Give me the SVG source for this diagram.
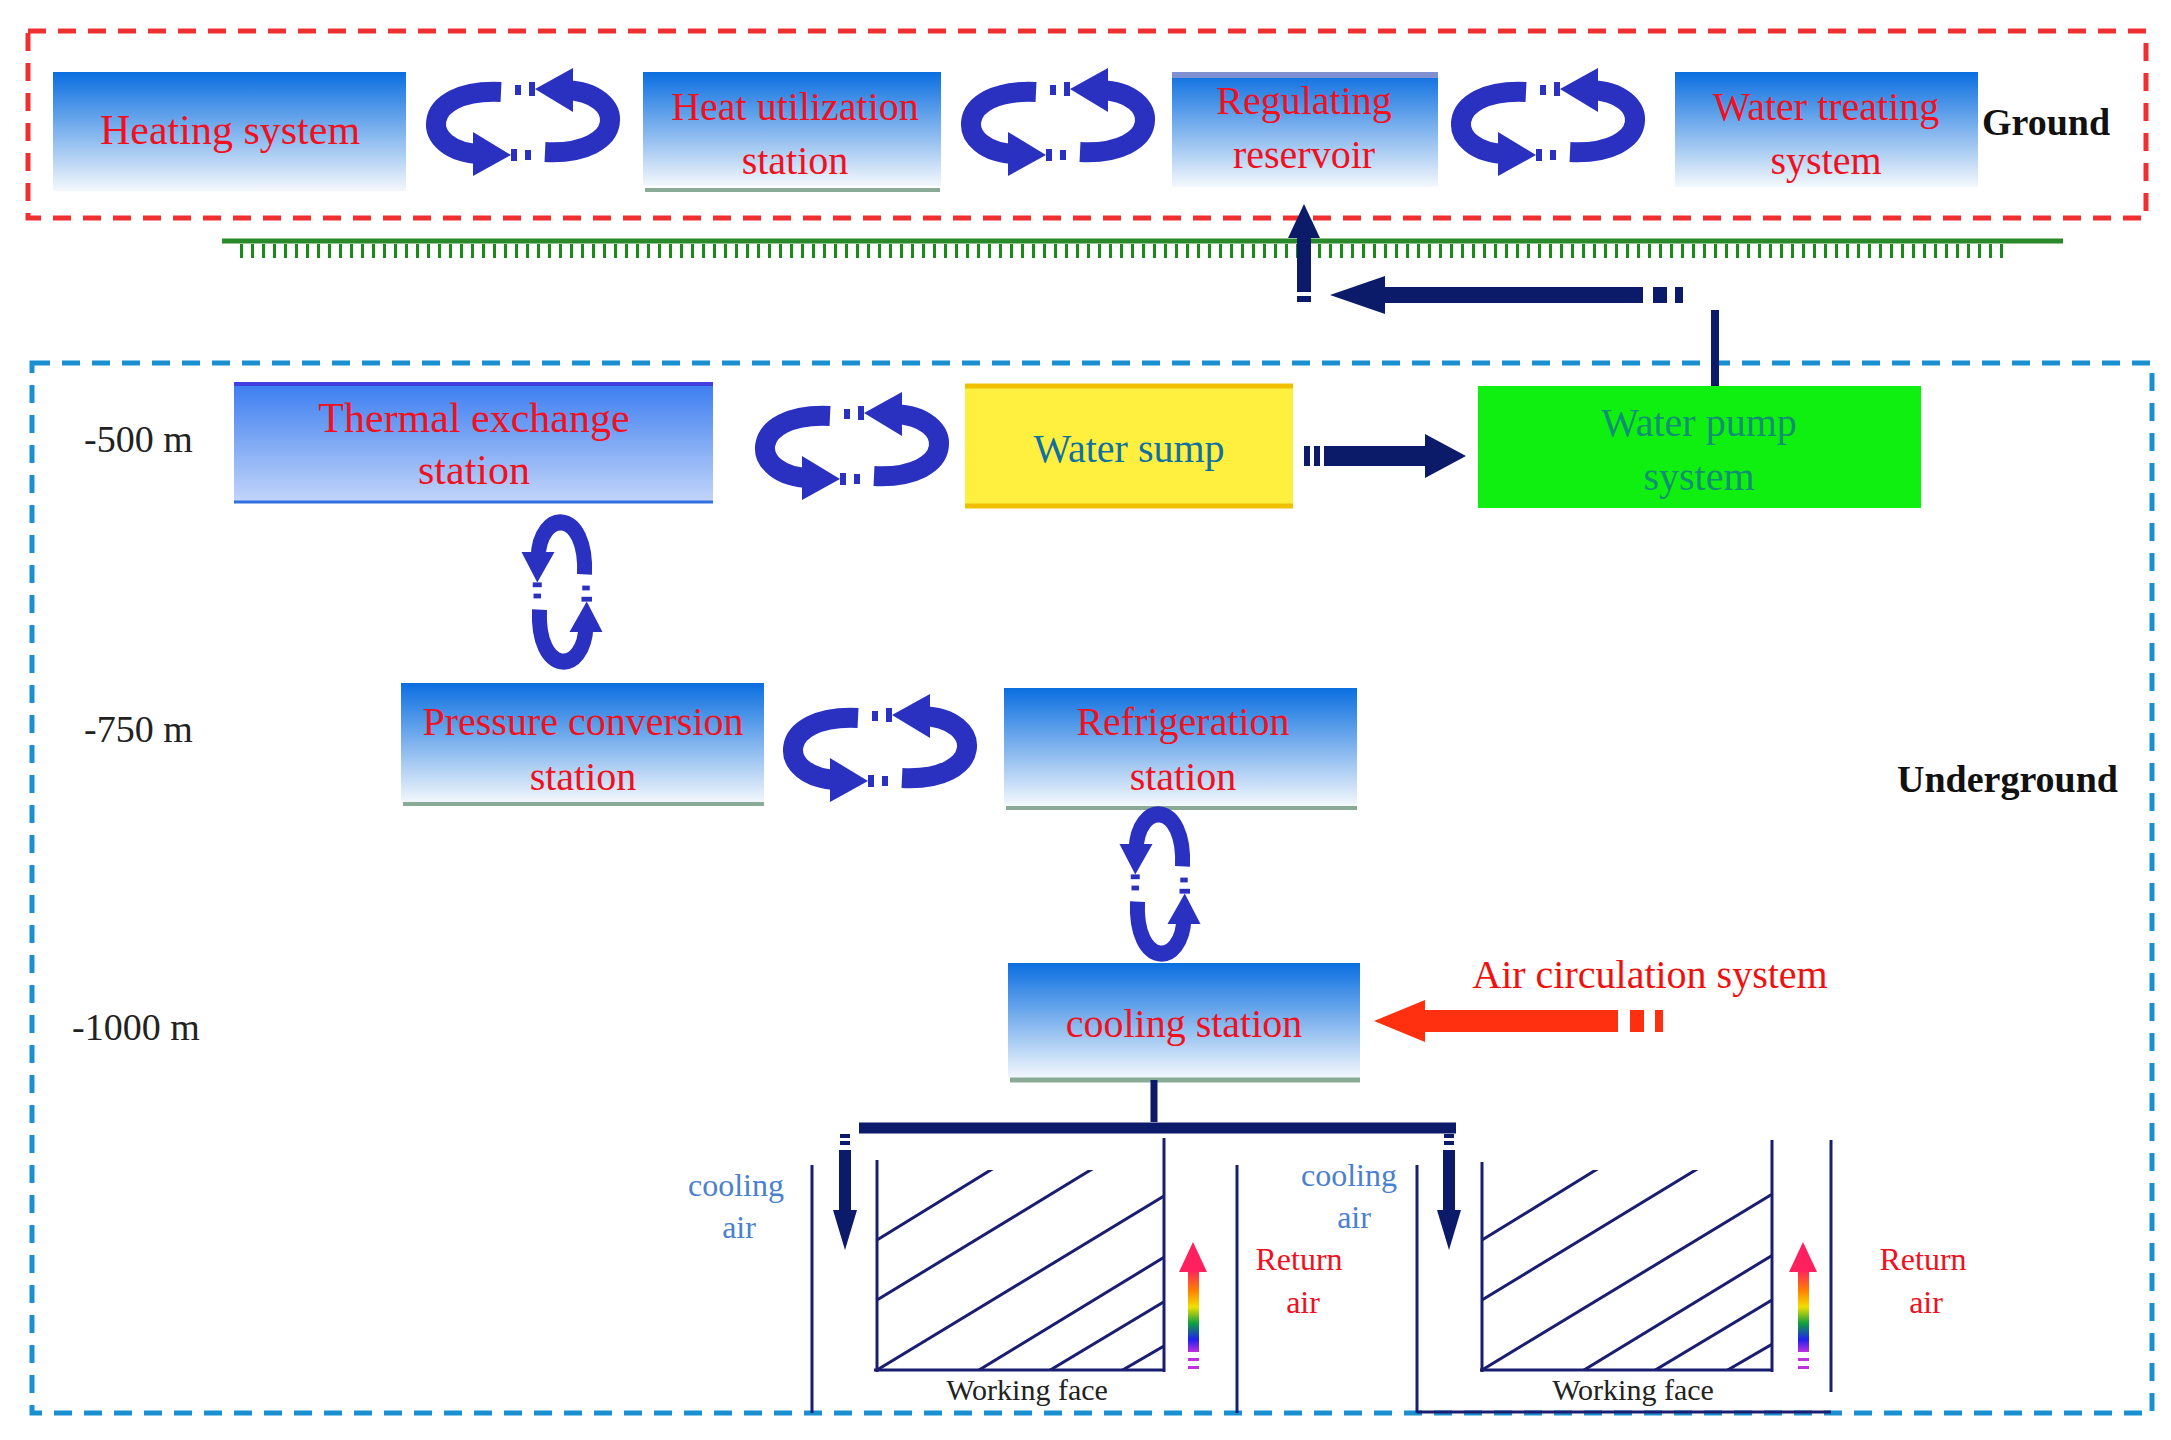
<svg xmlns="http://www.w3.org/2000/svg" width="2171" height="1440" viewBox="0 0 2171 1440">
<style>
.t{font-family:"Liberation Serif",serif;fill:#f01020;text-anchor:middle}
.b{font-family:"Liberation Serif",serif;fill:#111;font-weight:bold}
.d{font-family:"Liberation Serif",serif;fill:#222;font-size:38px}
.ca{font-family:"Liberation Serif",serif;fill:#4a80d0;font-size:32px;text-anchor:middle}
.ra{font-family:"Liberation Serif",serif;fill:#f01020;font-size:32px;text-anchor:middle}
.wf{font-family:"Liberation Serif",serif;fill:#222;font-size:30px;text-anchor:middle}
.nv{stroke:#0c1a6a;fill:none}
.h{stroke:#1a1e70;stroke-width:3;fill:none}
</style>
<defs>
<linearGradient id="gb" x1="0" y1="0" x2="0" y2="1"><stop offset="0" stop-color="#0a6ee0"/><stop offset="1" stop-color="#f4f8fc"/></linearGradient>
<linearGradient id="gt" x1="0" y1="0" x2="0" y2="1"><stop offset="0" stop-color="#3a7cf0"/><stop offset="1" stop-color="#c4d6fa"/></linearGradient>
<linearGradient id="rb" x1="0" y1="1" x2="0" y2="0"><stop offset="0" stop-color="#c030e0"/><stop offset="0.15" stop-color="#2020f0"/><stop offset="0.35" stop-color="#10a040"/><stop offset="0.55" stop-color="#f0e000"/><stop offset="0.75" stop-color="#ff8000"/><stop offset="1" stop-color="#ff2060"/></linearGradient>
<g id="cyc" fill="#2a30c0">
<path d="M-22,-30 C-105,-34 -105,30 -42,32" stroke="#2a30c0" stroke-width="20" fill="none"/>
<polygon points="-50,10 -12,33 -50,54"/>
<path d="M22,30 C105,34 105,-30 42,-32" stroke="#2a30c0" stroke-width="20" fill="none"/>
<polygon points="50,-10 12,-33 50,-54"/>
<rect x="-8" y="-37" width="6" height="10"/><rect x="6" y="-40" width="6" height="14"/>
<rect x="-12" y="27" width="6" height="12"/><rect x="2" y="28" width="6" height="10"/>
</g>
<clipPath id="c1"><rect x="0" y="0" width="287" height="199"/></clipPath>
<clipPath id="c2"><rect x="0" y="0" width="290" height="199"/></clipPath>
<g id="hatch" class="h">
<line x1="0" y1="70" x2="130" y2="-10"/><line x1="0" y1="130" x2="230" y2="-10"/>
<line x1="0" y1="200" x2="330" y2="0"/><line x1="20" y1="250" x2="340" y2="55"/>
<line x1="90" y1="250" x2="340" y2="100"/><line x1="160" y1="250" x2="340" y2="145"/>
<line x1="250" y1="250" x2="340" y2="190"/>
</g>
</defs>
<rect width="2171" height="1440" fill="#fff"/>
<g id="ground">
<rect x="28" y="31" width="2118" height="187" fill="none" stroke="#f03030" stroke-width="5" stroke-dasharray="18,12"/>
<text class="b" x="1982" y="135" font-size="38">Ground</text>
<line x1="222" y1="241" x2="2063" y2="241" stroke="#2a8a2a" stroke-width="5"/>
<line x1="240" y1="251" x2="2010" y2="251" stroke="#1a8a1a" stroke-width="14" stroke-dasharray="3,8"/>
</g>
<g id="underground">
<rect x="32" y="363" width="2120" height="1050" fill="none" stroke="#1a90d0" stroke-width="5" stroke-dasharray="18,12"/>
<text class="b" x="2118" y="792" font-size="38" text-anchor="end">Underground</text>
<text class="d" x="84" y="452">-500 m</text>
<text class="d" x="84" y="742">-750 m</text>
<text class="d" x="72" y="1040">-1000 m</text>
</g>
<g id="heating"><rect x="53" y="72" width="353" height="119" fill="url(#gb)"/><text class="t" x="230" y="144" font-size="42">Heating system</text></g>
<g id="heatutil"><rect x="643" y="72" width="298" height="114" fill="url(#gb)"/><line x1="645" y1="190" x2="940" y2="190" stroke="#8aaa98" stroke-width="4"/><text class="t" x="795" y="120" font-size="40">Heat utilization</text><text class="t" x="795" y="174" font-size="40">station</text></g>
<g id="regulating"><rect x="1172" y="72" width="266" height="115" fill="url(#gb)"/><rect x="1172" y="72" width="266" height="6" fill="#8090d0"/><text class="t" x="1304" y="114" font-size="40">Regulating</text><text class="t" x="1304" y="168" font-size="40">reservoir</text></g>
<g id="watertreat"><rect x="1675" y="72" width="303" height="115" fill="url(#gb)"/><text class="t" x="1826" y="120" font-size="40">Water treating</text><text class="t" x="1826" y="174" font-size="40">system</text></g>
<g id="thermal"><rect x="234" y="382" width="479" height="121" fill="url(#gt)"/><line x1="234" y1="384" x2="713" y2="384" stroke="#4040e0" stroke-width="4"/><line x1="234" y1="502" x2="713" y2="502" stroke="#3070e0" stroke-width="3"/><text class="t" x="474" y="432" font-size="42">Thermal exchange</text><text class="t" x="474" y="484" font-size="42">station</text></g>
<g id="sump"><rect x="965" y="384" width="328" height="124" fill="#fff040"/><line x1="965" y1="386" x2="1293" y2="386" stroke="#f0c000" stroke-width="5"/><line x1="965" y1="506" x2="1293" y2="506" stroke="#f0c000" stroke-width="5"/><text x="1129" y="462" font-size="40" text-anchor="middle" font-family="Liberation Serif,serif" fill="#1070a0">Water sump</text></g>
<g id="pump"><rect x="1478" y="386" width="443" height="122" fill="#10f010"/><text x="1699" y="436" font-size="40" text-anchor="middle" font-family="Liberation Serif,serif" fill="#109070">Water pump</text><text x="1699" y="490" font-size="40" text-anchor="middle" font-family="Liberation Serif,serif" fill="#109070">system</text></g>
<g id="pressure"><rect x="401" y="683" width="363" height="120" fill="url(#gb)"/><line x1="403" y1="804" x2="764" y2="804" stroke="#8aaa98" stroke-width="4"/><text class="t" x="583" y="735" font-size="40">Pressure conversion</text><text class="t" x="583" y="790" font-size="40">station</text></g>
<g id="refrig"><rect x="1004" y="688" width="353" height="118" fill="url(#gb)"/><line x1="1006" y1="808" x2="1357" y2="808" stroke="#8aaa98" stroke-width="4"/><text class="t" x="1183" y="735" font-size="40">Refrigeration</text><text class="t" x="1183" y="790" font-size="40">station</text></g>
<g id="cooling"><rect x="1008" y="963" width="352" height="115" fill="url(#gb)"/><line x1="1010" y1="1080" x2="1360" y2="1080" stroke="#8aaa98" stroke-width="5"/><text class="t" x="1184" y="1037" font-size="40">cooling station</text></g>
<g id="connectors">
<use href="#cyc" transform="translate(523,122)"/>
<use href="#cyc" transform="translate(1058,122)"/>
<use href="#cyc" transform="translate(1548,122)"/>
<use href="#cyc" transform="translate(852,446)"/>
<use href="#cyc" transform="translate(880,748)"/>
<use href="#cyc" transform="translate(562,592) rotate(90) scale(0.8,0.75)"/>
<use href="#cyc" transform="translate(1160,884) rotate(90) scale(0.8,0.75)"/>
<line x1="1324" y1="456" x2="1430" y2="456" class="nv" stroke-width="20"/><rect x="1304" y="446" width="6" height="20" fill="#0c1a6a"/><rect x="1314" y="446" width="6" height="20" fill="#0c1a6a"/>
<polygon points="1425,434 1466,456 1425,478" fill="#0c1a6a"/>
<line x1="1715" y1="386" x2="1715" y2="310" class="nv" stroke-width="8"/>
<line x1="1643" y1="295" x2="1380" y2="295" class="nv" stroke-width="16"/><rect x="1653" y="287" width="14" height="16" fill="#0c1a6a"/><rect x="1675" y="287" width="8" height="16" fill="#0c1a6a"/>
<polygon points="1385,276 1330,295 1385,314" fill="#0c1a6a"/>
<line x1="1304" y1="292" x2="1304" y2="235" class="nv" stroke-width="14"/><rect x="1297" y="296" width="14" height="6" fill="#0c1a6a"/>
<polygon points="1288,238 1304,204 1320,238" fill="#0c1a6a"/>
<text x="1650" y="988" font-size="40" text-anchor="middle" font-family="Liberation Serif,serif" fill="#f01010">Air circulation system</text>
<line x1="1618" y1="1021" x2="1420" y2="1021" stroke="#ff3010" stroke-width="22"/><rect x="1630" y="1010" width="14" height="22" fill="#ff3010"/><rect x="1655" y="1010" width="8" height="22" fill="#ff3010"/>
<polygon points="1425,1000 1374,1021 1425,1042" fill="#ff3010"/>
<line x1="1154" y1="1080" x2="1154" y2="1122" class="nv" stroke-width="7"/>
<line x1="859" y1="1128" x2="1456" y2="1128" class="nv" stroke-width="11"/>
</g>
<g id="face1">
<line x1="812" y1="1165" x2="812" y2="1413" class="h"/>
<line x1="1237" y1="1165" x2="1237" y2="1413" class="h"/>
<line x1="877" y1="1160" x2="877" y2="1372" class="h"/>
<line x1="1164" y1="1138" x2="1164" y2="1372" class="h"/>
<line x1="874" y1="1370" x2="1164" y2="1370" class="h" stroke-width="4"/>
<use href="#hatch" transform="translate(877,1170)" clip-path="url(#c1)"/>
<rect x="840" y="1134" width="10" height="4" fill="#0c1a6a"/><rect x="840" y="1141" width="10" height="4" fill="#0c1a6a"/>
<line x1="845" y1="1150" x2="845" y2="1215" class="nv" stroke-width="12"/><polygon points="833,1210 845,1250 857,1210" fill="#0c1a6a"/>
<rect x="1188" y="1270" width="11" height="82" fill="url(#rb)"/><polygon points="1179,1272 1193,1242 1207,1272" fill="#ff2060"/>
<rect x="1188" y="1358" width="11" height="3" fill="#c030e0"/><rect x="1188" y="1366" width="11" height="3" fill="#c030e0"/>
<text class="ca" x="736" y="1196">cooling</text><text class="ca" x="739" y="1238">air</text>
<text class="ra" x="1299" y="1270">Return</text><text class="ra" x="1303" y="1313">air</text>
<text class="wf" x="1027" y="1400">Working face</text>
</g>
<g id="face2">
<line x1="1417" y1="1165" x2="1417" y2="1413" class="h"/>
<line x1="1417" y1="1412" x2="1831" y2="1412" class="h"/>
<line x1="1831" y1="1140" x2="1831" y2="1392" class="h"/>
<line x1="1482" y1="1162" x2="1482" y2="1372" class="h"/>
<line x1="1772" y1="1140" x2="1772" y2="1372" class="h"/>
<line x1="1480" y1="1370" x2="1772" y2="1370" class="h" stroke-width="4"/>
<use href="#hatch" transform="translate(1482,1170)" clip-path="url(#c2)"/>
<rect x="1444" y="1134" width="10" height="4" fill="#0c1a6a"/><rect x="1444" y="1141" width="10" height="4" fill="#0c1a6a"/>
<line x1="1449" y1="1150" x2="1449" y2="1215" class="nv" stroke-width="12"/><polygon points="1437,1210 1449,1250 1461,1210" fill="#0c1a6a"/>
<rect x="1798" y="1270" width="11" height="82" fill="url(#rb)"/><polygon points="1789,1272 1803,1242 1817,1272" fill="#ff2060"/>
<rect x="1798" y="1358" width="11" height="3" fill="#c030e0"/><rect x="1798" y="1366" width="11" height="3" fill="#c030e0"/>
<text class="ca" x="1349" y="1186">cooling</text><text class="ca" x="1354" y="1228">air</text>
<text class="ra" x="1923" y="1270">Return</text><text class="ra" x="1926" y="1313">air</text>
<text class="wf" x="1633" y="1400">Working face</text>
</g>
</svg>
